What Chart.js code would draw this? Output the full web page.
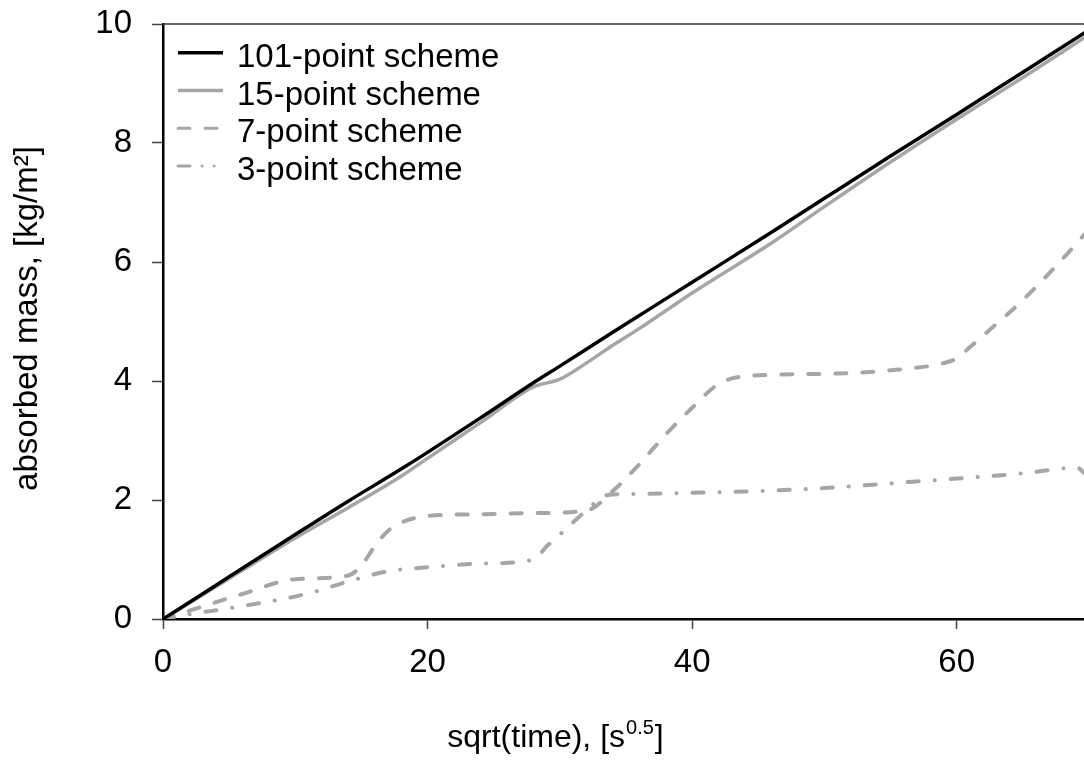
<!DOCTYPE html>
<html>
<head>
<meta charset="utf-8">
<script src="https://cdn.jsdelivr.net/npm/chart.js@4/dist/chart.umd.min.js"></script>
<style>
html,body{margin:0;padding:0;background:#fff;overflow:hidden;}
#wrap{width:1100px;height:760px;}
</style>
</head>
<body>
<div id="wrap"><canvas id="c" width="1100" height="760"></canvas></div>
<script>
// ---- data ----
const seriesLabels = ["101-point scheme", "15-point scheme", "7-point scheme", "3-point scheme"];

const t101 = [0, 2, 5, 10, 14, 18, 20, 24, 28, 30, 34, 40, 46, 50, 55, 60, 65, 70];
const m101 = [0, 0.28, 0.71, 1.42, 1.98, 2.52, 2.8, 3.38, 3.97, 4.25, 4.82, 5.66, 6.5, 7.07, 7.78, 8.48, 9.19, 9.9];

const t15 = [0, 2, 5, 10, 14, 18, 20, 24, 28, 30, 32, 34, 36, 40, 46, 50, 55, 60, 65, 70];
const m15 = [0, 0.27, 0.68, 1.36, 1.87, 2.4, 2.7, 3.3, 3.9, 4.03, 4.3, 4.6, 4.88, 5.48, 6.32, 6.93, 7.68, 8.4, 9.1, 9.82];

const t7 = [0, 2, 6, 10, 14, 15, 16, 17, 18, 20, 24, 28, 32, 34, 36, 38, 40, 42, 44, 50, 55, 59, 60, 61, 62.5, 65, 68, 70];
const m7 = [0, 0.14, 0.42, 0.67, 0.73, 0.9, 1.22, 1.48, 1.62, 1.73, 1.76, 1.78, 1.82, 2.15, 2.6, 3.1, 3.55, 3.95, 4.08, 4.12, 4.18, 4.3, 4.38, 4.57, 4.86, 5.36, 6.05, 6.55];

const t3 = [0, 2, 5, 11, 14, 17, 20, 24, 28, 29, 30, 32, 33.5, 35, 40, 45, 50, 55, 60, 65, 68, 69, 70];
const m3 = [0, 0.08, 0.18, 0.43, 0.63, 0.8, 0.87, 0.93, 1.0, 1.22, 1.42, 1.82, 2.08, 2.1, 2.12, 2.15, 2.2, 2.28, 2.36, 2.45, 2.53, 2.55, 2.38];

const xTickValues = [0, 20, 40, 60];
const yTickValues = [0, 2, 4, 6, 8, 10];

const FONT = "'Liberation Sans', Arial, sans-serif";
const GREY = "#a6a6a6";

function pts(xs, ys){ return xs.map((x,i)=>({x:x, y:ys[i]})); }

const datasets = [
  {label: seriesLabels[0], data: pts(t101, m101), borderColor: "#000", borderWidth: 3.5, borderDash: []},
  {label: seriesLabels[1], data: pts(t15, m15), borderColor: GREY, borderWidth: 3.5, borderDash: []},
  {label: seriesLabels[2], data: pts(t7, m7), borderColor: GREY, borderWidth: 4, borderDash: [11, 16], borderCapStyle: "round"},
  {label: seriesLabels[3], data: pts(t3, m3), borderColor: GREY, borderWidth: 4, borderDash: [11, 16, 0.1, 16], borderCapStyle: "round"}
].map(d => Object.assign({pointRadius: 0, pointHoverRadius: 0, fill: false, tension: 0.4, cubicInterpolationMode: "monotone"}, d));

const legendDash = [[], [], [12, 15], [12, 12, 0.1, 12, 0.1, 100]];
const legendWidth = [3.5, 3.5, 3, 3];

const decor = {
  id: "decor",
  afterDraw(chart){
    const ctx = chart.ctx, a = chart.chartArea;
    ctx.save();
    // top frame line
    ctx.strokeStyle = "#333"; ctx.lineWidth = 1.5;
    ctx.beginPath(); ctx.moveTo(a.left, a.top); ctx.lineTo(a.right + 20, a.top); ctx.stroke();
    // legend
    ctx.font = "33px " + FONT; ctx.fillStyle = "#000"; ctx.textAlign = "left"; ctx.textBaseline = "alphabetic";
    chart.data.datasets.forEach((ds, i) => {
      const y = a.top + 28.7 + i * 37.8;
      ctx.beginPath();
      ctx.setLineDash(legendDash[i]);
      ctx.lineCap = legendDash[i].length ? "round" : "butt";
      ctx.lineWidth = legendWidth[i]; ctx.strokeStyle = ds.borderColor;
      ctx.moveTo(a.left + 15, y); ctx.lineTo(a.left + 60, y); ctx.stroke();
      ctx.setLineDash([]);
      ctx.fillText(ds.label, a.left + 74, y + 14);
    });
    // y title
    ctx.save();
    ctx.translate(28, (a.top + a.bottom) / 2 - 3);
    ctx.rotate(-Math.PI / 2);
    ctx.textAlign = "center"; ctx.textBaseline = "middle";
    ctx.font = "33px " + FONT;
    ctx.fillText("absorbed mass, [kg/m²]", 0, 0);
    ctx.restore();
    // x title with superscript
    const main = "sqrt(time), [s", sup = "0.5", end = "]";
    const big = "32px " + FONT, small = "20px " + FONT;
    ctx.font = big; const w1 = ctx.measureText(main).width, w3 = ctx.measureText(end).width;
    ctx.font = small; const w2 = ctx.measureText(sup).width;
    let x = 555.5 - (w1 + w2 + w3 + 2) / 2;
    const base = 747;
    ctx.textAlign = "left"; ctx.textBaseline = "alphabetic";
    ctx.font = big; ctx.fillText(main, x, base); x += w1;
    ctx.font = small; ctx.fillText(sup, x + 1, base - 13); x += w2 + 2;
    ctx.font = big; ctx.fillText(end, x, base);
    ctx.restore();
  }
};

new Chart(document.getElementById("c"), {
  type: "line",
  data: {datasets: datasets},
  plugins: [decor],
  options: {
    responsive: false,
    animation: false,
    layout: {padding: {top: 24, right: 11, left: 0, bottom: 0}},
    plugins: {legend: {display: false}, tooltip: {enabled: false}},
    scales: {
      x: {
        type: "linear", min: 0, max: 70,
        afterBuildTicks: s => { s.ticks = xTickValues.map(v => ({value: v})); },
        afterFit: s => { s.height = 141; s.paddingRight = 0; },
        grid: {drawOnChartArea: false, drawTicks: true, tickLength: 10, tickColor: "#444", tickWidth: 1.5},
        border: {display: true, color: "#000", width: 2.5},
        ticks: {font: {family: FONT, size: 33}, color: "#000", padding: 14, maxRotation: 0}
      },
      y: {
        type: "linear", min: 0, max: 10,
        afterBuildTicks: s => { s.ticks = yTickValues.map(v => ({value: v})); },
        afterFit: s => { s.width = 163; s.paddingTop = 0; s.paddingBottom = 0; },
        grid: {drawOnChartArea: false, drawTicks: true, tickLength: 11, tickColor: "#444", tickWidth: 1.5},
        border: {display: true, color: "#000", width: 2.5},
        ticks: {font: {family: FONT, size: 33}, color: "#000", padding: 20}
      }
    }
  }
});
</script>
</body>
</html>
